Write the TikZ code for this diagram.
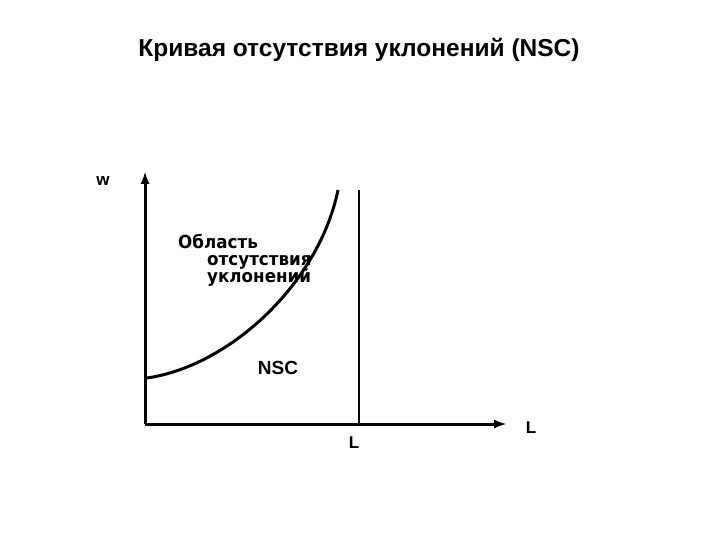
\documentclass[tikz,border=0pt]{standalone}
\usepackage{fontspec}
\setmainfont{Liberation Sans}
\newfontfamily\areafont[FakeStretch=0.93]{DejaVu Sans}
\usepackage{xcolor}

\begin{document}
\begin{tikzpicture}[x=1pt,y=-1pt,>=latex]
            \tikzset{areatext/.style={anchor=base west, inner sep=0pt, font=\fontsize{18}{20}\selectfont\areafont\bfseries}}
            \useasboundingbox (0,0) rectangle (720,540);
            \node[font=\fontsize{24.5}{28}\selectfont\bfseries] (title) at (359,50) {Кривая отсутствия уклонений (NSC)};
            \coordinate (O) at (145,424);
            \coordinate (wtip) at (145,172);
            \coordinate (Ltip) at (506,424);
            \draw[line width=3pt, ->] (O) -- (wtip);
            \draw[line width=3pt, ->] (O) -- (Ltip);
            \node[font=\fontsize{17}{19}\selectfont\bfseries] (w) at (103,181) {w};
            \node[font=\fontsize{17}{19}\selectfont\bfseries] (Lx) at (531,428) {L};
            \coordinate (Ltop) at (359,190);
            \coordinate (Lbot) at (359,424);
            \draw[line width=2.5pt] (Ltop) -- (Lbot);
            \node[font=\fontsize{17}{19}\selectfont\bfseries] (Lbar) at (354,443) {L};
            \coordinate (nscA) at (147,378);
            \coordinate (nscB) at (338,190);
            \draw[line width=3pt] (nscA) .. controls (230,366) and (319,283) .. (nscB);
            \node[font=\fontsize{19}{21}\selectfont\bfseries] (nsc) at (278,368) {NSC};
            \node[areatext] (area1) at (178,248) {Область};
            \node[areatext] (area2) at (207,265) {отсутствия};
            \node[areatext] (area3) at (207,282) {уклонений};
        \end{tikzpicture}
\end{document}
